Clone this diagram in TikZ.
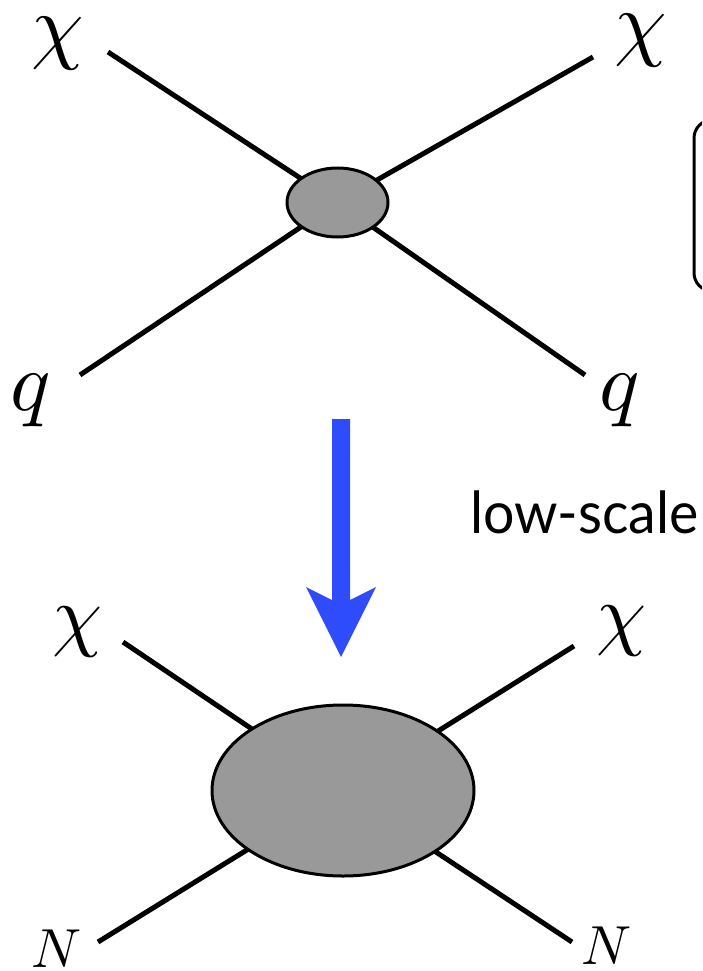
\documentclass[tikz,border=0pt]{standalone}
\usepackage{fontspec}
\usepackage{unicode-math}
\setmathfont{Latin Modern Math}
\newfontfamily\labelfont[FakeStretch=0.955]{Lato}
\usetikzlibrary{shapes.geometric}
\definecolor{arrowblue}{RGB}{46,76,252}
\definecolor{blobgray}{RGB}{153,153,153}
\begin{document}
\begin{tikzpicture}[x=1pt,y=-1pt,
  leg/.style={line width=5pt},
  blob/.style={ellipse,draw=black,line width=3pt,fill=blobgray,inner sep=0pt},
  bigsym/.style={inner sep=0pt,font=\fontsize{84}{90}\selectfont},
  midsym/.style={inner sep=0pt,font=\fontsize{80}{86}\selectfont},
  smallsym/.style={inner sep=0pt,font=\fontsize{55}{60}\selectfont}]
\useasboundingbox (0,0) rectangle (702,971);
\clip (0,0) rectangle (702,971);
% ---------- top diagram ----------
\coordinate (tc) at (337.5,202.5);
\coordinate (tul) at (108,52);
\coordinate (tur) at (593,57);
\coordinate (tll) at (80,375);
\coordinate (tlr) at (585,375);
\draw[leg] (tul) -- (tc);
\draw[leg] (tur) -- (tc);
\draw[leg] (tll) -- (tc);
\draw[leg] (tlr) -- (tc);
\node[blob,minimum width=101pt,minimum height=69pt] (tblob) at (tc) {};
\node[bigsym] (chi1) at (58,43.5) {$\chi$};
\node[bigsym] (chi2) at (640.5,40.5) {$\chi$};
\node[bigsym] (q1) at (31,400.5) {$q$};
\node[bigsym] (q2) at (620,400.5) {$q$};
% ---------- side box (cut off) ----------
\draw[line width=3pt,rounded corners=18pt] (760,120) rectangle (694,291);
% ---------- arrow ----------
\fill[arrowblue] (332,419) -- (350,419) -- (350,600) -- (376,587) -- (341,657)
  -- (306,587) -- (332,600) -- cycle;
\node[anchor=base west,inner sep=0pt,font=\labelfont\fontsize{58}{62}\selectfont] (lowscale) at (470,533) {low-scale};
% ---------- bottom diagram ----------
\coordinate (bc) at (343,790.5);
\coordinate (bul) at (123,642);
\coordinate (bur) at (574,646);
\coordinate (bll) at (98,942);
\coordinate (blr) at (572,942);
\draw[leg] (bul) -- (bc);
\draw[leg] (bur) -- (bc);
\draw[leg] (bll) -- (bc);
\draw[leg] (blr) -- (bc);
\node[blob,minimum width=262pt,minimum height=171pt] (bblob) at (bc) {};
\node[midsym] (chi3) at (77.5,632) {$\chi$};
\node[midsym] (chi4) at (621.5,631) {$\chi$};
\node[smallsym] (N1) at (56.5,948.5) {$N$};
\node[smallsym] (N2) at (606.5,946) {$N$};
\end{tikzpicture}
\end{document}
